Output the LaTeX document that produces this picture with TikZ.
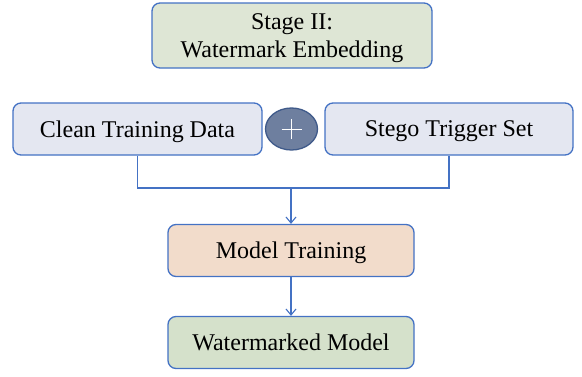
\documentclass[tikz,border=0pt]{standalone}
\usepackage{fontspec}
\setmainfont{Liberation Serif}
\usetikzlibrary{arrows.meta,shapes.geometric}
\definecolor{bord}{HTML}{4472C4}
\definecolor{fgreen}{HTML}{DEE6D5}
\definecolor{fblue}{HTML}{E4E7F1}
\definecolor{fpeach}{HTML}{F2DCCB}
\definecolor{fgreen2}{HTML}{D5E1CB}
\definecolor{fplus}{HTML}{6E7F9F}
\definecolor{bplus}{HTML}{3F5A8A}
\tikzset{
  box/.style={draw=bord, line width=1.3pt, rounded corners=8pt, inner sep=0pt, align=center, text depth=0pt, font=\fontsize{24}{28}\selectfont},
  conn/.style={draw=bord, line width=1.1pt},
  arr/.style={conn, -{Straight Barb[length=6pt,width=10pt]}}
}
\begin{document}
\begin{tikzpicture}[x=1pt,y=-1pt]
\useasboundingbox (0,0) rectangle (582,376);
\node[box, fill=fgreen, minimum width=280pt, minimum height=65pt] (stage) at (292,35.5) {Stage II:\\Watermark Embedding};
\node[box, fill=fblue, minimum width=249pt, minimum height=52pt] (clean) at (137.5,129) {Clean Training Data};
\node[ellipse, draw=bplus, line width=1.3pt, fill=fplus, minimum width=52pt, minimum height=42pt, inner sep=0pt] (plus) at (291.5,129) {};
\draw[white, line width=0.8pt] ([xshift=-10pt]plus.center) -- ([xshift=10pt]plus.center) ([yshift=-10pt]plus.center) -- ([yshift=10pt]plus.center);
\node[box, fill=fblue, minimum width=248pt, minimum height=52pt] (stego) at (449,129) {Stego Trigger Set};
\node[box, fill=fpeach, minimum width=246pt, minimum height=52pt] (train) at (291,250.5) {Model Training};
\node[box, fill=fgreen2, minimum width=246pt, minimum height=52pt] (wm) at (291,342.5) {Watermarked Model};
\coordinate (j) at (291,188);
\draw[conn] (clean.south) |- (j) -| (stego.south);
\draw[arr] (j) -- (train.north);
\draw[arr] (train.south) -- (wm.north);
\end{tikzpicture}
\end{document}
